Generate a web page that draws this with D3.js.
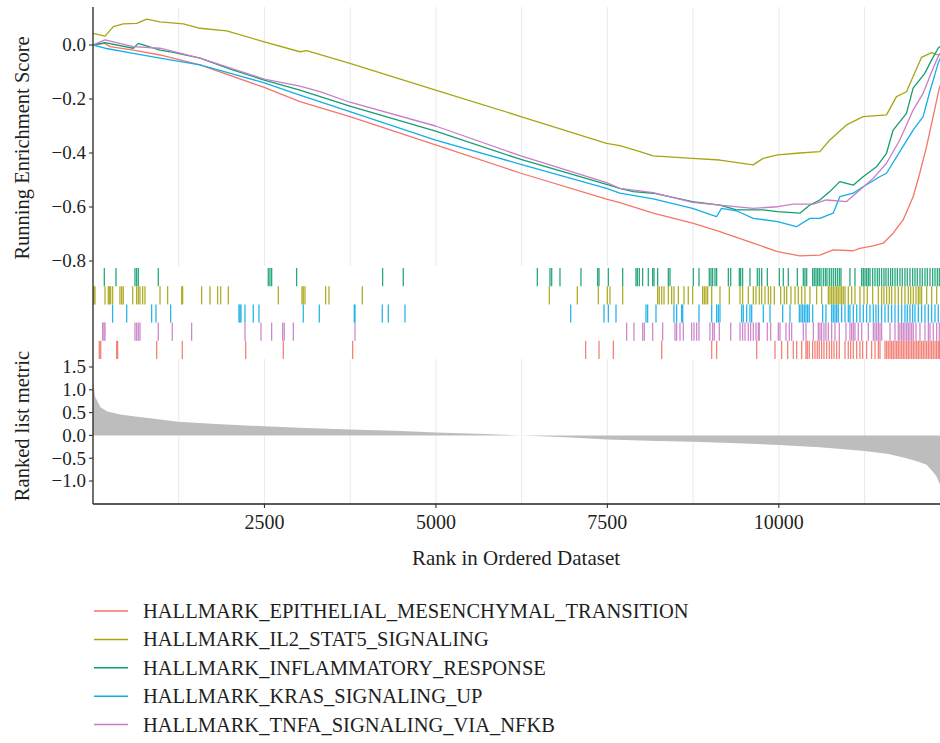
<!DOCTYPE html>
<html>
<head>
<meta charset="utf-8">
<script src="https://cdn.jsdelivr.net/npm/d3@7"></script>
<style>
  body { margin: 0; background: #fff; }
  text { font-family: "Liberation Serif", "DejaVu Serif", serif; fill: #1f1f1f; }
</style>
</head>
<body>
<svg id="chart" width="940" height="743"></svg>
<script>
// ---- gene sets ----
const geneSets = [
  "HALLMARK_EPITHELIAL_MESENCHYMAL_TRANSITION",
  "HALLMARK_IL2_STAT5_SIGNALING",
  "HALLMARK_INFLAMMATORY_RESPONSE",
  "HALLMARK_KRAS_SIGNALING_UP",
  "HALLMARK_TNFA_SIGNALING_VIA_NFKB"
];
const setColors = ["#F2766A", "#A7A514", "#119E70", "#12AEE8", "#C97DC6"];
// order of the hit rows, top to bottom
const rugOrder = [2, 1, 3, 4, 0];

// ---- running enrichment score: [rank, score] ----
const esEMT = [[0,0],[175,0.006],[248,-0.006],[588,-0.019],[977,-0.037],[1560,-0.074],[2497,-0.157],[3017,-0.21],[3746,-0.265],[4995,-0.37],[6239,-0.475],[7488,-0.571],[7682,-0.584],[8168,-0.623],[8742,-0.66],[9140,-0.691],[9626,-0.734],[9981,-0.765],[10306,-0.781],[10598,-0.778],[10792,-0.759],[11084,-0.762],[11181,-0.753],[11375,-0.744],[11521,-0.734],[11667,-0.697],[11812,-0.648],[11958,-0.562],[12055,-0.475],[12153,-0.377],[12250,-0.265],[12323,-0.179],[12350,-0.15]];
const esIL2 = [[0,0.043],[175,0.033],[296,0.068],[442,0.078],[637,0.08],[783,0.096],[977,0.086],[1317,0.078],[1560,0.062],[1949,0.052],[2497,0.012],[3017,-0.025],[3115,-0.021],[3746,-0.068],[4995,-0.167],[6239,-0.265],[7488,-0.364],[7682,-0.373],[7974,-0.395],[8168,-0.411],[8742,-0.42],[9140,-0.426],[9626,-0.444],[9771,-0.42],[9981,-0.407],[10306,-0.40],[10598,-0.395],[10743,-0.352],[10987,-0.296],[11229,-0.265],[11570,-0.259],[11715,-0.191],[11861,-0.173],[11958,-0.117],[12080,-0.046],[12226,-0.028],[12323,-0.037],[12350,-0.035]];
const esINFL = [[0,0],[175,0.009],[588,-0.012],[661,0.006],[977,-0.019],[1171,-0.027],[1560,-0.049],[2045,-0.093],[2497,-0.13],[3017,-0.167],[3746,-0.226],[4995,-0.319],[6239,-0.424],[7488,-0.516],[7682,-0.531],[7876,-0.543],[8168,-0.549],[8742,-0.58],[9140,-0.593],[9383,-0.611],[9771,-0.611],[9981,-0.617],[10306,-0.623],[10452,-0.593],[10598,-0.574],[10743,-0.543],[10889,-0.506],[11084,-0.519],[11229,-0.488],[11424,-0.451],[11570,-0.401],[11667,-0.315],[11861,-0.253],[11958,-0.16],[12128,-0.105],[12226,-0.056],[12323,-0.012],[12350,-0.005]];
const esKRAS = [[0,0],[175,-0.012],[588,-0.031],[977,-0.049],[1560,-0.074],[2045,-0.108],[2497,-0.14],[3017,-0.186],[3746,-0.247],[4995,-0.352],[6239,-0.442],[7488,-0.531],[7682,-0.549],[8168,-0.57],[8742,-0.605],[9091,-0.636],[9164,-0.605],[9383,-0.614],[9626,-0.642],[9981,-0.654],[10257,-0.673],[10452,-0.642],[10598,-0.642],[10792,-0.623],[10889,-0.562],[11084,-0.549],[11229,-0.525],[11472,-0.488],[11570,-0.475],[11764,-0.395],[11958,-0.315],[12104,-0.265],[12201,-0.173],[12323,-0.068],[12350,-0.05]];
const esTNFA = [[0,0],[175,0.019],[588,-0.006],[977,-0.012],[1560,-0.049],[2497,-0.126],[3017,-0.152],[3309,-0.173],[3746,-0.212],[4995,-0.30],[6239,-0.411],[7488,-0.51],[7682,-0.531],[8168,-0.547],[8742,-0.583],[9140,-0.593],[9626,-0.605],[9981,-0.599],[10209,-0.589],[10500,-0.589],[10695,-0.574],[10987,-0.58],[11181,-0.537],[11375,-0.494],[11570,-0.438],[11764,-0.352],[11958,-0.241],[12104,-0.179],[12201,-0.117],[12323,-0.043],[12350,-0.03]];
const esSeries = [esEMT, esIL2, esINFL, esKRAS, esTNFA];

// ---- gene hit positions (rank in ordered list) ----
const hitsEMT = [92,112,345,359,928,1302,2226,2775,3786,7183,7378,7587,8292,9021,9093,9677,9944,10041,10129,10211,10260,10333,10396,10415,10444,10493,10527,10561,10590,10624,10658,10697,10736,10770,10804,10843,10882,10965,11013,11047,11086,11135,11183,11222,11280,11353,11402,11451,11475,11548,11572,11596,11621,11645,11669,11694,11718,11742,11766,11791,11815,11839,11864,11888,11912,11937,11961,11985,12010,12034,12058,12082,12107,12131,12155,12180,12204,12228,12252,12277,12301,12325,12345];
const hitsIL2 = [14,29,175,223,238,257,286,393,418,442,578,636,661,685,724,758,977,1088,1293,1307,1584,1706,1817,1861,1973,2702,3047,3066,3091,3392,3441,3927,6654,7062,7368,7499,7538,7723,8233,8257,8292,8326,8389,8437,8471,8535,8617,8680,8743,8889,8914,8938,8962,9021,9142,9278,9434,9472,9555,9628,9667,9715,9750,9798,9847,9881,9934,10027,10080,10114,10177,10236,10284,10333,10381,10454,10551,10624,10722,10746,10770,10794,10819,10843,10867,10892,10916,10940,10965,11013,11062,11110,11183,11242,11290,11368,11451,11499,11533,11572,11611,11645,11694,11742,11791,11839,11888,11922,11961,12000,12034,12058,12082,12155,12228,12301];
const hitsINFL = [165,335,612,636,661,952,2556,2580,2605,2969,4223,4524,6479,6663,6688,6809,7115,7358,7378,7514,7723,7917,7937,7966,8014,8097,8160,8180,8233,8389,8413,8753,8836,8986,9011,9035,9069,9093,9264,9298,9424,9443,9472,9579,9686,9715,9750,9832,10007,10065,10138,10270,10357,10381,10406,10493,10517,10542,10566,10590,10615,10649,10678,10702,10736,10765,10794,10824,10853,10882,10906,11037,11110,11208,11232,11256,11280,11305,11329,11368,11402,11436,11465,11499,11533,11562,11596,11630,11659,11694,11728,11766,11800,11839,11873,11912,11951,11985,12019,12058,12092,12131,12165,12204,12243,12277,12311,12340];
const hitsKRAS = [286,491,855,918,1132,2128,2143,2158,2216,2337,2420,3066,3300,3810,3820,4218,4306,4549,6965,7451,7514,7626,8063,8087,8209,8471,8510,8583,8598,8836,9021,9093,9118,9142,9458,9482,9531,9579,9604,9774,9871,10056,10163,10299,10323,10347,10372,10396,10420,10444,10493,10639,10687,10770,10794,10819,10843,10867,10916,10965,11013,11037,11086,11135,11183,11232,11280,11329,11378,11416,11451,11499,11548,11596,11645,11694,11742,11791,11839,11873,11912,11951,11985,12034,12082,12131,12180,12228,12277,12325];
const hitsTNFA = [141,160,175,612,636,661,685,952,1156,1438,2216,2449,2605,2765,2789,2921,3820,7781,7888,8014,8039,8160,8306,8486,8510,8559,8607,8729,8763,8802,8836,8996,9035,9059,9132,9298,9434,9472,9507,9555,9589,9628,9667,9701,9715,9832,9881,9993,10017,10104,10153,10187,10357,10396,10503,10576,10600,10624,10658,10687,10722,10770,10819,10882,10979,11037,11062,11086,11110,11159,11208,11305,11378,11402,11426,11451,11475,11499,11621,11694,11742,11766,11791,11815,11839,11864,11888,11912,11937,11961,12000,12058,12131,12180,12204,12252,12301,12340];
const hitSeries = [hitsEMT, hitsIL2, hitsINFL, hitsKRAS, hitsTNFA];

// ---- ranked list metric ----
const metricRanks  = [0, 30, 110, 200, 272, 400, 589, 800, 1243, 1800, 2500, 3100, 3749, 4400, 5000, 5600, 6250, 6900, 7500, 8100, 8750, 9400, 10000, 10600, 11250, 11600, 11830, 12000, 12150, 12250, 12300, 12350];
const metricValues = [1.2, 0.85, 0.62, 0.53, 0.50, 0.46, 0.42, 0.38, 0.30, 0.25, 0.20, 0.165, 0.13, 0.10, 0.066, 0.035, 0.0, -0.04, -0.09, -0.115, -0.14, -0.17, -0.21, -0.26, -0.34, -0.41, -0.49, -0.56, -0.64, -0.80, -0.90, -1.08];

// ---- axes ----
const rankTicks = [2500, 5000, 7500, 10000];
const rankGrid = [1250, 2500, 3750, 5000, 6250, 7500, 8750, 10000, 11250];
const esTicks = [0, -0.2, -0.4, -0.6, -0.8];
const metricTicks = [1.5, 1.0, 0.5, 0.0, -0.5, -1.0];

const svg = d3.select("#chart");
svg.append("rect").attr("width", 940).attr("height", 743).attr("fill", "#fff");

const left = 93, right = 940;
const topPanel = { y0: 7, y1: 266 };
const rugPanel = { y0: 268, y1: 359 };
const botPanel = { y0: 359, y1: 504 };

const x = d3.scaleLinear().domain([0, 12350]).range([left, right]);
const yES = d3.scaleLinear().domain([-0.8, 0]).range([261, 45]);
const yMetric = d3.scaleLinear().domain([-1, 1.5]).range([481, 367]);
const yRug = d3.scaleBand().domain(d3.range(5)).range([rugPanel.y0, rugPanel.y1]);

const grid = "#EBEBEB";
// vertical grid lines in the score and metric panels
[topPanel, botPanel].forEach(p => {
  svg.append("g").selectAll("line").data(rankGrid).join("line")
    .attr("x1", d => x(d)).attr("x2", d => x(d))
    .attr("y1", p.y0).attr("y2", p.y1)
    .attr("stroke", grid).attr("stroke-width", 1.1);
});

// clip for the score panel
svg.append("clipPath").attr("id", "clipTop")
  .append("rect").attr("x", left).attr("y", topPanel.y0).attr("width", right - left).attr("height", topPanel.y1 - topPanel.y0);

// running enrichment score lines
const esLine = d3.line().x(d => x(d[0])).y(d => yES(d[1]));
svg.append("g").attr("clip-path", "url(#clipTop)")
  .selectAll("path").data(esSeries).join("path")
  .attr("d", esLine)
  .attr("fill", "none")
  .attr("stroke", (d, i) => setColors[i])
  .attr("stroke-width", 1.3)
  .attr("stroke-linejoin", "round");

// gene hit rug
rugOrder.forEach((si, row) => {
  svg.append("g").selectAll("line").data(hitSeries[si]).join("line")
    .attr("x1", d => x(d)).attr("x2", d => x(d))
    .attr("y1", yRug(row)).attr("y2", yRug(row) + yRug.bandwidth())
    .attr("stroke", setColors[si])
    .attr("stroke-opacity", 0.9)
    .attr("stroke-width", 1.3);
});

// ranked list metric area
const metricData = metricRanks.map((r, i) => [r, metricValues[i]]);
svg.append("path")
  .datum(metricData)
  .attr("d", d3.area().x(d => x(d[0])).y0(yMetric(0)).y1(d => yMetric(d[1])))
  .attr("fill", "#BEBDBE");

// axis lines
svg.append("line").attr("x1", left).attr("x2", left).attr("y1", topPanel.y0).attr("y2", botPanel.y1)
  .attr("stroke", "#222").attr("stroke-width", 1.3);
svg.append("line").attr("x1", left).attr("x2", right).attr("y1", botPanel.y1).attr("y2", botPanel.y1)
  .attr("stroke", "#222").attr("stroke-width", 1.3);

const fmt = d3.format(".1f");
// score axis
const gES = svg.append("g");
gES.selectAll("line").data(esTicks).join("line")
  .attr("x1", left - 4).attr("x2", left).attr("y1", d => yES(d)).attr("y2", d => yES(d))
  .attr("stroke", "#333").attr("stroke-width", 1.1);
gES.selectAll("text").data(esTicks).join("text")
  .attr("x", left - 7).attr("y", d => yES(d) + 6.3)
  .attr("text-anchor", "end").attr("font-size", 19)
  .text(d => fmt(d));

// metric axis
const gM = svg.append("g");
gM.selectAll("line").data(metricTicks).join("line")
  .attr("x1", left - 4).attr("x2", left).attr("y1", d => yMetric(d)).attr("y2", d => yMetric(d))
  .attr("stroke", "#333").attr("stroke-width", 1.1);
gM.selectAll("text").data(metricTicks).join("text")
  .attr("x", left - 7).attr("y", d => yMetric(d) + 6.3)
  .attr("text-anchor", "end").attr("font-size", 19)
  .text(d => fmt(d));

// rank axis
const gX = svg.append("g");
gX.selectAll("line").data(rankTicks).join("line")
  .attr("x1", d => x(d)).attr("x2", d => x(d)).attr("y1", botPanel.y1).attr("y2", botPanel.y1 + 4)
  .attr("stroke", "#333").attr("stroke-width", 1.1);
gX.selectAll("text").data(rankTicks).join("text")
  .attr("x", d => x(d)).attr("y", 529)
  .attr("text-anchor", "middle").attr("font-size", 20)
  .text(d => d);

// axis titles
svg.append("text").attr("x", 516).attr("y", 565).attr("text-anchor", "middle")
  .attr("font-size", 21).text("Rank in Ordered Dataset");
svg.append("text").attr("transform", "translate(29,148) rotate(-90)").attr("text-anchor", "middle")
  .attr("font-size", 20.5).text("Running Enrichment Score");
svg.append("text").attr("transform", "translate(29,426) rotate(-90)").attr("text-anchor", "middle")
  .attr("font-size", 20.5).text("Ranked list metric");

// legend
const legend = svg.append("g").selectAll("g").data(geneSets).join("g")
  .attr("transform", (d, i) => `translate(0,${611 + i * 28.4})`);
legend.append("line").attr("x1", 94).attr("x2", 128).attr("y1", 0).attr("y2", 0)
  .attr("stroke", (d, i) => setColors[i]).attr("stroke-width", 1.5);
legend.append("text").attr("x", 143).attr("y", 7).attr("font-size", 20.5).text(d => d);
</script>
</body>
</html>
